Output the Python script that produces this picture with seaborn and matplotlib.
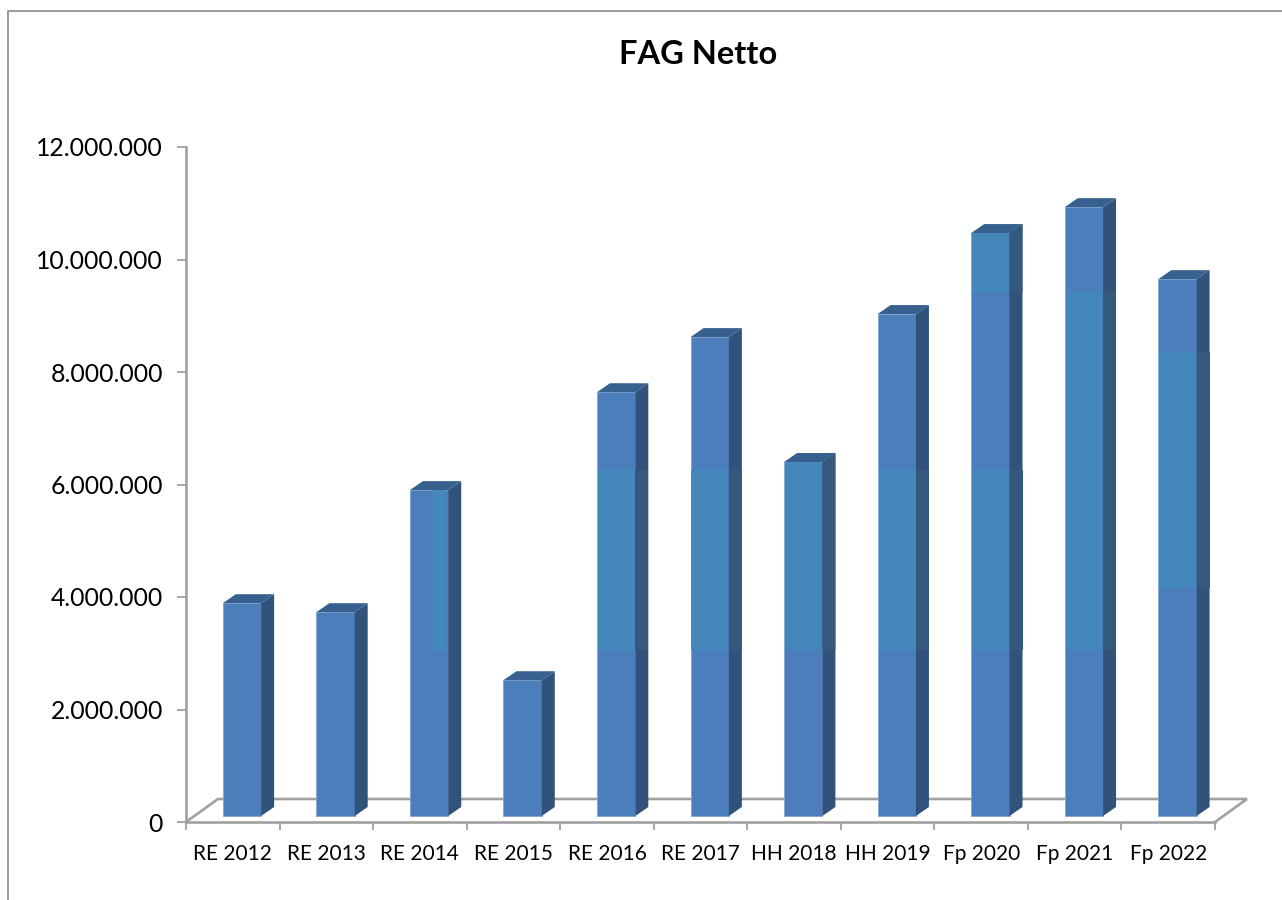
#!/usr/bin/env python
# -*- coding: utf-8 -*-
import numpy as np
import pandas as pd
import seaborn as sns
import matplotlib.pyplot as plt
from matplotlib.patches import Polygon, Rectangle

categories = ["RE 2012", "RE 2013", "RE 2014", "RE 2015", "RE 2016", "RE 2017",
              "HH 2018", "HH 2019", "Fp 2020", "Fp 2021", "Fp 2022"]
values = [3.89, 3.73, 5.90, 2.52, 7.64, 8.62, 6.40, 9.03, 10.47, 10.93, 9.65]

# lighter colour bands on the bars (scan artefacts in the original)
band1_low = [0, 0, 0, 0, 3.06, 3.06, 3.06, 3.06, 3.06, 3.06, 4.16]
band1_high = [0, 0, 0, 0, 6.26, 6.26, 6.40, 6.26, 6.26, 9.42, 8.36]
band2_low = [0, 0, 0, 0, 0, 0, 0, 0, 9.42, 0, 0]
band2_high = [0, 0, 0, 0, 0, 0, 0, 0, 10.47, 0, 0]
narrow_band = (2, 3.06, 5.90)

y_ticks = [0, 2, 4, 6, 8, 10, 12]
y_labels = ["0", "2.000.000", "4.000.000", "6.000.000", "8.000.000", "10.000.000", "12.000.000"]

BLUE = "#4C7EBC"
TEAL = "#4387BB"
SIDE = "#30527B"
SIDE_TEAL = "#34597C"
TOP = "#38608F"
GREY = "#A0A0A0"

W, H = 1282, 900
# pixel box of the plot area
LEFT, RIGHT, TOP_PX, BOTTOM_PX = 186, 1215, 147, 822
FLOOR = 0.107          # bars stand a little above the axis zero
BAR_W = 0.41
DX, DY = 13 / 93.6, 9 / 56.25   # depth of the 3d look in data units

sns.set_theme(style="white")
plt.rcParams["font.family"] = ["Lato", "DejaVu Sans"]

fig = plt.figure(figsize=(W / 100, H / 100), dpi=100)
ax = fig.add_axes([LEFT / W, 1 - BOTTOM_PX / H, (RIGHT - LEFT) / W, (BOTTOM_PX - TOP_PX) / H])
ax.patch.set_alpha(0)

df = pd.DataFrame({"cat": categories, "val": values})
df["height"] = df["val"] - FLOOR
df["b1"] = np.array(band1_high) - np.array(band1_low)
df["b2"] = np.array(band2_high) - np.array(band2_low)

sns.barplot(data=df, x="cat", y="height", bottom=FLOOR, color=BLUE, saturation=1,
            width=BAR_W, errorbar=None, edgecolor="#86A8D4", linewidth=0.7, zorder=3, ax=ax)
sns.barplot(data=df, x="cat", y="b1", bottom=band1_low, color=TEAL, saturation=1,
            width=BAR_W - 0.02, errorbar=None, linewidth=0, zorder=4, ax=ax)
sns.barplot(data=df, x="cat", y="b2", bottom=band2_low, color=TEAL, saturation=1,
            width=BAR_W - 0.02, errorbar=None, linewidth=0, zorder=4, ax=ax)
ax.bar(narrow_band[0] + 0.107, narrow_band[2] - narrow_band[1], width=0.15,
       bottom=narrow_band[1], color=TEAL, linewidth=0, zorder=4)


def side_face(i, low, high, color, z, low_dy=0.0, high_dy=0.0):
    r = i + BAR_W / 2
    pts = [(r, low), (r + DX, low + low_dy), (r + DX, high + high_dy), (r, high)]
    ax.add_patch(Polygon(pts, closed=True, facecolor=color, edgecolor="none", zorder=z, clip_on=False))


for i, v in enumerate(values):
    side_face(i, FLOOR, v, SIDE, 3, DY, DY)
    l = i - BAR_W / 2
    r = i + BAR_W / 2
    ax.add_patch(Polygon([(l, v), (l + DX, v + DY), (r + DX, v + DY), (r, v)], closed=True,
                         facecolor=TOP, edgecolor="none", zorder=3, clip_on=False))
    # side tint has level edges in the reference, except where it reaches the bar top
    if band1_high[i]:
        side_face(i, band1_low[i], band1_high[i], SIDE_TEAL, 4,
                  high_dy=DY if band1_high[i] == v else 0.0)
    if band2_high[i]:
        side_face(i, band2_low[i], band2_high[i], SIDE_TEAL, 4,
                  high_dy=DY if band2_high[i] == v else 0.0)

xmin = -56 / 93.6
ax.set_xlim(xmin, xmin + 11)
ax.set_ylim(0, 12)

# floor of the 3d box
fx = 32 / 93.6
fy = 23 / 56.25
ax.plot([xmin, xmin + fx, xmin + 11 + fx, xmin + 11], [0, fy, fy, 0], color=GREY, lw=1.9,
        clip_on=False, zorder=1, solid_joinstyle="miter")

for s in ["top", "right"]:
    ax.spines[s].set_visible(False)
for s in ["left", "bottom"]:
    ax.spines[s].set_color(GREY)
    ax.spines[s].set_linewidth(1.9)

ax.set_xlabel("")
ax.set_ylabel("")
ax.set_yticks(y_ticks)
ax.set_yticklabels(y_labels, fontsize=17.8, color="black")
ax.tick_params(axis="y", left=True, length=6.5, width=1.3, color=GREY, pad=10)

centers = xmin + 0.5 + np.arange(11)
ax.set_xticks(centers)
ax.set_xticklabels(categories, fontsize=15, color="black")
ax.set_xticks(xmin + np.arange(12), minor=True)
ax.tick_params(axis="x", which="major", bottom=False, pad=10)
ax.tick_params(axis="x", which="minor", bottom=True, length=6, width=1.3, color=GREY)

fig.text(698 / W, 1 - 55 / H, "FAG Netto", fontsize=23.5, fontweight="bold", color="black",
         ha="center", va="center")

# chart frame, only left and top are in the picture
fig.add_artist(Rectangle((8 / W, -0.1), 1.2, 1.1 - 11 / H, transform=fig.transFigure,
                         facecolor="none", edgecolor="#8A8A8A", linewidth=1.2))

fig.savefig("out.png", dpi=100)
